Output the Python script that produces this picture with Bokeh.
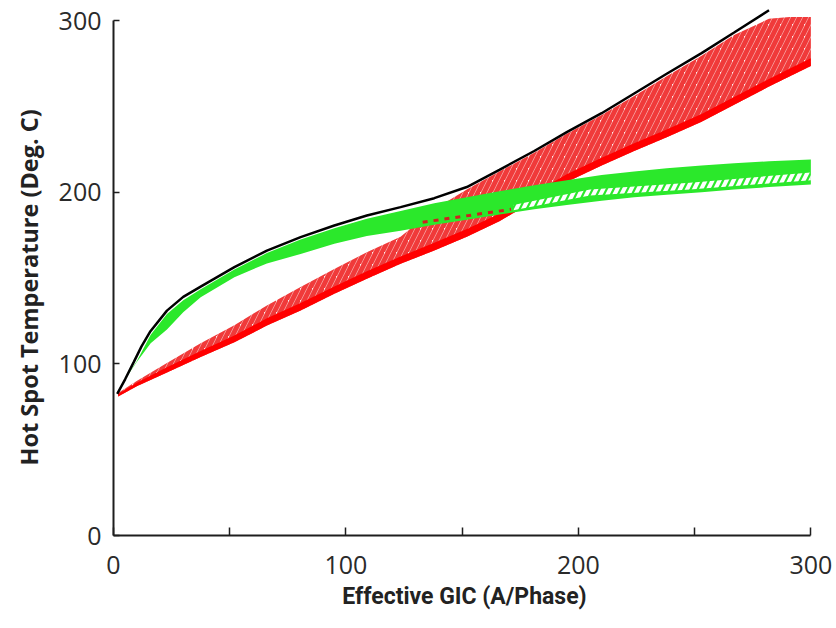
from bokeh.plotting import figure
from bokeh.models import FixedTicker, Range1d, Title
from bokeh.embed import file_html
from bokeh.resources import INLINE

# ---- data ----
x_ticks = [0, 100, 200, 300]
x_minor_ticks = [50, 150, 250]
y_ticks = [0, 100, 200, 300]

black_x = [1.6, 5, 8.7, 12, 15.9, 23, 30, 37.5, 52, 66, 80.5, 95, 109, 123.5, 138, 152,
           166, 181, 195, 210, 224, 238, 253, 267, 282]
black_y = [82.5, 91, 101, 110, 119, 131, 139, 145, 156.3, 166, 173.8, 180.6, 186.4, 191.3, 196.5, 203,
           213, 224, 235, 246, 257.5, 269, 281, 293, 306]

red_x = [2, 10, 23, 37.5, 52, 66, 80.5, 95, 109, 123.5, 138, 152, 166, 181, 195, 210, 224,
         238, 253, 267, 282, 291, 300]
red_lower = [81, 87, 95, 104, 112.6, 122.3, 131, 140.8, 149.5, 158.3, 166, 174, 183, 195, 206,
             215.5, 224, 232, 241, 251, 261.5, 267.5, 273.5]
red_solid = [82.5, 89, 98, 107.5, 116.5, 126.5, 135.5, 145, 154, 162.5, 170.5, 178.5, 187.5, 199.5,
             210.5, 220, 228.5, 236.5, 245.5, 255.5, 266, 272, 278]
red_upper = [83, 90, 100.5, 112, 122.5, 134, 144.7, 155.3, 165, 174, 190, 201.5, 212, 223, 234,
             245, 256, 267.5, 279.5, 291.5, 301, 302, 302]

green_x = [5, 10, 16, 23, 30, 37.5, 52, 66, 80.5, 95, 109, 123.5, 138, 152, 166, 181, 195, 210,
           224, 238, 253, 267, 282, 300]
green_lower = [91, 101, 112, 120, 130, 138.8, 150.5, 158.5, 164, 170, 174.5, 177.5, 181, 184, 187,
               190, 192.5, 195, 197, 198.5, 200, 201.5, 203, 204.5]
green_upper = [91.5, 101.5, 117, 129, 137, 143.5, 155, 164.5, 172.5, 179, 184.5, 189, 193.5, 197,
               200.5, 204, 207, 210, 212, 214, 215.5, 216.8, 218, 219]

gap_x = [172, 205, 248, 300]
gap_lower = [189.5, 198, 201.5, 207]
gap_upper = [192.5, 201.5, 205.5, 211.5]

dash_x = [133, 171]
dash_y = [182.5, 190]

p = figure(width=836, height=628, x_range=Range1d(0, 302), y_range=Range1d(0, 307),
           output_backend="svg", toolbar_location=None,
           min_border_left=113, min_border_right=21, min_border_top=8, min_border_bottom=93)
p.grid.visible = False
p.outline_line_color = None
p.background_fill_color = "white"

# red band
p.varea(x=red_x, y1=red_lower, y2=red_upper, fill_color="#fdeaea", fill_alpha=1.0,
        hatch_pattern="/", hatch_color="#f03a3a", hatch_weight=5, hatch_scale=12)
p.varea(x=red_x, y1=red_lower, y2=red_solid, fill_color="#ff0000")
# green band
p.varea(x=green_x, y1=green_lower, y2=green_upper, fill_color="#2be82b")
p.varea(x=gap_x, y1=gap_lower, y2=gap_upper, fill_alpha=0,
        hatch_pattern="/", hatch_color="white", hatch_weight=4, hatch_scale=14)
p.line(dash_x, dash_y, line_color="#d02020", line_width=3, line_dash="5 6")
# envelope
p.line(black_x, black_y, line_color="black", line_width=2.5)

axis_color = "#1e1e1e"
for ax in (p.xaxis[0], p.yaxis[0]):
    ax.axis_line_width = 2
    ax.axis_line_color = axis_color
    ax.major_tick_line_color = axis_color
    ax.minor_tick_line_color = axis_color
    ax.major_tick_line_width = 1.5
    ax.minor_tick_line_width = 1.5
    ax.major_tick_out = 0
    ax.minor_tick_out = 0
    ax.major_label_text_font = "Open Sans"
    ax.major_label_text_font_size = "25px"
    ax.major_label_text_color = "#2a2a2a"
    ax.axis_label_text_font_style = "bold"
    ax.axis_label_text_color = "#222222"
    ax.bounds = (0, 300)

p.xaxis.ticker = FixedTicker(ticks=x_ticks, minor_ticks=x_minor_ticks)
p.xaxis.major_tick_in = 8
p.xaxis.minor_tick_in = 8
p.xaxis.major_label_standoff = 20
p.xaxis.axis_label = "Effective GIC (A/Phase)"
p.xaxis.axis_label_text_font = "Roboto"
p.xaxis.axis_label_text_font_size = "23px"
p.xaxis.axis_label_standoff = 6

p.yaxis.ticker = FixedTicker(ticks=y_ticks, minor_ticks=[])
p.yaxis.major_tick_in = 6
p.yaxis.minor_tick_in = 0
p.yaxis.major_label_standoff = 12

ytitle = Title(text="Hot Spot Temperature (Deg. C)", align="left", offset=70,
               vertical_align="top",
               text_font="Open Sans", text_font_style="bold", text_font_size="23.5px",
               text_color="#222222", standoff=18)
p.add_layout(ytitle, "left")

open("out.html", "w").write(file_html(p, INLINE))
